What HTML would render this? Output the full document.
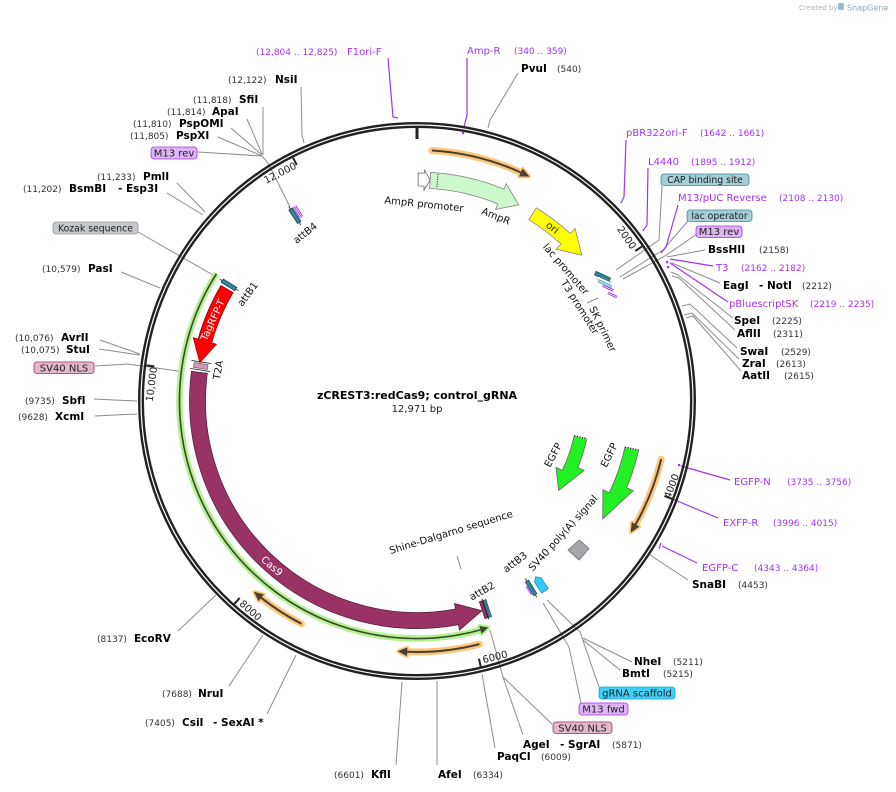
<!DOCTYPE html>
<html><head><meta charset="utf-8"><style>
html,body{margin:0;padding:0;background:#fff;}
svg{display:block;font-family:"DejaVu Sans","Liberation Sans",sans-serif;}
.b{font-weight:bold;font-size:10.5px;fill:#000}
.n{font-size:9px;fill:#333}
.p{font-size:10px;fill:#a033ee}
.pn{font-size:9px;fill:#a033ee}
.l{stroke:#8c8c8c;stroke-width:1;fill:none}
.pl{stroke:#a033ee;stroke-width:1.2;fill:none}
.f{font-size:10px;fill:#111}
.bx{font-size:10px;fill:#222}
.bs{font-size:9.3px;fill:#222}
</style></head><body>
<svg width="896" height="792" viewBox="0 0 896 792" xmlns="http://www.w3.org/2000/svg">
<rect width="896" height="792" fill="#fff"/>

<!-- header -->
<text x="799" y="10" font-size="7" fill="#b0b0b0">Created by</text>
<rect x="838" y="3" width="6" height="7" rx="1.5" fill="#9bbad0"/>
<text x="847" y="10.5" font-size="8" fill="#8aa4b8">SnapGene</text>

<!-- connector lines (gray) -->
<path class="l" d="M301,87 L302,135 L304,143"/>
<path class="l" d="M263,107 L263,155"/>
<path class="l" d="M247,119 L262,154"/>
<path class="l" d="M231,128 L262,155"/>
<path class="l" d="M218,137 L262,156"/>
<path class="l" d="M198,152 L262,156 L268,163 L290,207"/>
<path class="l" d="M177,183 L205,212"/>
<path class="l" d="M167,193 L203,215"/>
<path class="l" d="M138,232 L213,275"/>
<path class="l" d="M121,272 L160,288"/>
<path class="l" d="M100,340 L140,354"/>
<path class="l" d="M99,349 L140,355"/>
<path class="l" d="M95,366 L128,364 L178,371"/>
<path class="l" d="M94,399 L137,401"/>
<path class="l" d="M95,416 L137,414"/>
<path class="l" d="M178,631 L216,595"/>
<path class="l" d="M229,686 L263,635"/>
<path class="l" d="M267,714 L296,655"/>
<path class="l" d="M396,765 L402,682"/>
<path class="l" d="M437,765 L437,681"/>
<path class="l" d="M495,748 L482,674"/>
<path class="l" d="M523,735 L503,677 L490,630"/>
<path class="l" d="M552,724 L503,677"/>
<path class="l" d="M581,703 L569,647 L543,603"/>
<path class="l" d="M600,690 L580,632 L547,600"/>
<path class="l" d="M632,662 L583,638"/>
<path class="l" d="M620,670 L583,640"/>
<path class="l" d="M688,580 L650,555"/>
<path class="l" d="M518,73 L490,120 L488,128"/>
<path class="l" d="M662,186 L659,240 L616,270"/>
<path class="l" d="M688,221 L663,250 L620,277"/>
<path class="l" d="M697,234 L665,256 L623,279"/>
<path class="l" d="M705,250 L667,257"/>
<path class="l" d="M720,283 L672,263"/>
<path class="l" d="M733,318 L678,275 L671,272"/>
<path class="l" d="M735,330 L679,278 L672,276"/>
<path class="l" d="M737,348 L690,304 L682,306"/>
<path class="l" d="M739,359 L692,313 L684,315"/>
<path class="l" d="M741,371 L693,316 L686,318"/>
<path class="l" d="M457,556 L461,569"/>
<path class="l" d="M587,303 L598,298"/>

<!-- primer lines (purple) -->
<path class="pl" d="M388,58 L393,117 L398,118"/>
<path class="pl" d="M467,58 L467,115 L464,127"/>
<rect x="462" y="132" width="2.2" height="2.2" fill="#a033ee"/>
<path class="pl" d="M626,140 L624,197 L621,203"/>
<path class="pl" d="M648,168 L647,225 L643,231"/>
<path class="pl" d="M678,205 L666,247 L661,253"/>
<path class="pl" d="M713,266 L670,259"/>
<rect x="666" y="261" width="2.2" height="2.2" fill="#a033ee"/>
<path class="pl" d="M728,302 L670,263"/>
<rect x="667" y="266" width="2.2" height="2.2" fill="#a033ee"/>
<path class="pl" d="M730,480 L681,466"/>
<rect x="678" y="464" width="2.2" height="2.2" fill="#a033ee"/>
<path class="pl" d="M718,518 L670,498"/>
<rect x="667" y="496" width="2.2" height="2.2" fill="#a033ee"/>
<path class="pl" d="M697,563 L662,546"/>
<path class="pl" d="M661,543 L659,549"/>

<!-- backbone -->
<circle cx="417" cy="401" r="277.8" fill="none" stroke="#222" stroke-width="2.4"/>
<circle cx="417" cy="401" r="274.2" fill="none" stroke="#222" stroke-width="2.4"/>

<!-- ticks -->
<line x1="417" y1="127" x2="417" y2="139" stroke="#222" stroke-width="3"/>
<g stroke="#222" stroke-width="2">
<line x1="642.0" y1="246.4" x2="635.4" y2="250.9"/>
<line x1="671.9" y1="498.8" x2="664.4" y2="496.0"/>
<line x1="480.7" y1="666.5" x2="478.9" y2="658.7"/>
<line x1="234.3" y1="603.9" x2="239.7" y2="597.9"/>
<line x1="146.3" y1="365.4" x2="154.3" y2="366.4"/>
<line x1="293.1" y1="157.8" x2="296.7" y2="164.9"/>
</g>
<g font-size="10" fill="#222">
<text transform="translate(631.1,250) rotate(55.5)" text-anchor="end">2000</text>
<text transform="translate(670.1,499.2) rotate(-69)" text-anchor="start">4000</text>
<text transform="translate(483.4,663.2) rotate(-13.5)" text-anchor="start">6000</text>
<text transform="translate(238.8,604.5) rotate(42)" text-anchor="start">8000</text>
<text transform="translate(157.2,367.3) rotate(-82.5)" text-anchor="end">10,000</text>
<text transform="translate(297.2,168) rotate(-27)" text-anchor="end">12,000</text>
</g>

<!-- orange arcs -->
<g stroke="#fcc77c" stroke-linecap="round" stroke-linejoin="round" fill="#fcc77c">
<path d="M431.9,150.5 A251,251 0 0 1 521.1,172.6" stroke-width="7" fill="none"/>
<polygon points="519.4,176.2 522.7,168.9 529.0,176.4" stroke-width="4"/>
<path d="M661.2,459.2 A251,251 0 0 1 635.5,524.6" stroke-width="7" fill="none"/>
<polygon points="632.0,522.6 639.0,526.6 631.0,532.1" stroke-width="4"/>
<path d="M479.4,644.1 A251,251 0 0 1 406.9,651.8" stroke-width="7" fill="none"/>
<polygon points="407.1,647.8 406.8,655.8 398.2,651.3" stroke-width="4"/>
<path d="M301.5,623.8 A251,251 0 0 1 261.1,597.7" stroke-width="7" fill="none"/>
<polygon points="263.6,594.6 258.6,600.8 254.3,592.1" stroke-width="4"/>
</g>
<g stroke="#4a4033" fill="#4a4033">
<path d="M431.9,150.5 A251,251 0 0 1 521.1,172.6" stroke-width="2" fill="none"/>
<polygon points="519.4,176.2 522.7,168.9 529.0,176.4" stroke-width="0.5"/>
<path d="M661.2,459.2 A251,251 0 0 1 635.5,524.6" stroke-width="2" fill="none"/>
<polygon points="632.0,522.6 639.0,526.6 631.0,532.1" stroke-width="0.5"/>
<path d="M479.4,644.1 A251,251 0 0 1 406.9,651.8" stroke-width="2" fill="none"/>
<polygon points="407.1,647.8 406.8,655.8 398.2,651.3" stroke-width="0.5"/>
<path d="M301.5,623.8 A251,251 0 0 1 261.1,597.7" stroke-width="2" fill="none"/>
<polygon points="263.6,594.6 258.6,600.8 254.3,592.1" stroke-width="0.5"/>
</g>

<!-- green long arc -->
<path d="M216.5,273.7 A237.5,237.5 0 0 0 480.5,629.9" stroke="#b6ef8e" stroke-width="6.5" fill="none"/>
<polygon points="479.4,626 481.5,633.7 488.4,627.5" fill="#b6ef8e" stroke="#b6ef8e" stroke-width="4" stroke-linejoin="round"/>
<path d="M216.5,273.7 A237.5,237.5 0 0 0 480.5,629.9" stroke="#3b4a33" stroke-width="1.6" fill="none"/>
<polygon points="479.4,626 481.5,633.7 488.4,627.5" fill="#3b4a33"/>

<!-- Cas9 -->
<path d="M191.5,371.3 A227.5,227.5 0 0 0 458.5,624.7 L459.5,630.1 L481.9,610.7 L454.5,603.6 L455.5,609.0 A211.5,211.5 0 0 1 207.3,373.4 Z" fill="#993366" stroke="#5e1d3d" stroke-width="0.8"/>
<text transform="translate(272,566) rotate(41)" text-anchor="middle" dy="0.35em" font-size="10" fill="#fff">Cas9</text>

<!-- TagRFP-T -->
<path d="M221.0,285.5 A227.5,227.5 0 0 0 198.1,339.1 L193.3,337.7 L199.8,362.7 L216.4,344.2 L211.6,342.9 A213.5,213.5 0 0 1 233.1,292.6 Z" fill="#ff0000" stroke="#a00000" stroke-width="0.8"/>
<text transform="translate(212.5,320) rotate(-65)" text-anchor="middle" dy="0.35em" font-size="10" fill="#fff">TagRFP-T</text>

<!-- T2A -->
<g transform="translate(200.8,366) rotate(-80.8)">
<line x1="-4" y1="-10" x2="-4" y2="10" stroke="#222" stroke-width="0.8"/>
<line x1="4" y1="-10" x2="4" y2="10" stroke="#222" stroke-width="0.8"/>
<rect x="-2.5" y="-7" width="5" height="14" fill="#cc99b4" stroke="#6b4a5a" stroke-width="0.6"/>
</g>

<!-- attB1 -->
<g transform="translate(229,284.9) rotate(-58.3)">
<line x1="0" y1="-11" x2="0" y2="11" stroke="#222" stroke-width="0.8"/>
<rect x="-2" y="-8" width="4" height="16" fill="#2e8596" stroke="#1d3d44" stroke-width="0.7"/>
</g>
<!-- attB4 -->
<g transform="translate(294.8,215.7) rotate(-33.4)">
<line x1="0" y1="-11" x2="0" y2="11" stroke="#222" stroke-width="0.8"/>
<rect x="-2" y="-8" width="4" height="16" fill="#2e8596" stroke="#1d3d44" stroke-width="0.7"/>
<line x1="3.2" y1="-8" x2="3.2" y2="5" stroke="#a033ee" stroke-width="0.9"/>
<line x1="4.8" y1="-8" x2="4.8" y2="5" stroke="#a033ee" stroke-width="0.9"/>
<line x1="6.4" y1="-8" x2="6.4" y2="5" stroke="#a033ee" stroke-width="0.9"/>
</g>
<!-- attB2 -->
<g transform="translate(485.4,609.1) rotate(161.8)">
<line x1="0" y1="-11" x2="0" y2="11" stroke="#222" stroke-width="0.8"/>
<rect x="0.5" y="-9" width="3" height="18" fill="#993366" stroke="#4a1a30" stroke-width="0.6"/>
<rect x="-3.5" y="-9" width="3" height="18" fill="#2e8596" stroke="#1d3d44" stroke-width="0.6"/>
</g>
<!-- attB3 -->
<g transform="translate(531.1,587.9) rotate(148.6)">
<line x1="0" y1="-11" x2="0" y2="11" stroke="#222" stroke-width="0.8"/>
<rect x="-2" y="-8" width="4" height="16" fill="#2e8596" stroke="#1d3d44" stroke-width="0.6"/>
<rect x="2" y="-6" width="2" height="10" fill="#c060f0"/>
</g>
<!-- gRNA scaffold -->
<g transform="translate(540.6,584.2) rotate(146)">
<polygon points="-4,-8 4,-8 4,5 0,9 -4,5" fill="#33ccff" stroke="#1a7fa0" stroke-width="0.7"/>
</g>
<!-- SV40 polyA diamond -->
<polygon points="568,550 579.5,540 589,548.5 579,560" fill="#a3a7ab" stroke="#6a6e72" stroke-width="0.8"/>

<!-- lac cluster -->
<g transform="translate(602.5,276.5) rotate(25)"><rect x="-8" y="-2" width="16" height="4" fill="#2e8596" stroke="#1d3d44" stroke-width="0.6"/></g>
<g transform="translate(604,280.5) rotate(25)"><rect x="-7" y="-1.2" width="14" height="2.4" fill="#fff" stroke="#333" stroke-width="0.5" stroke-dasharray="1,1"/></g>
<g transform="translate(605,284) rotate(25)"><rect x="-7" y="-1.2" width="14" height="2.4" fill="#9edfe6" stroke="#3a8a96" stroke-width="0.5"/></g>
<g transform="translate(608,288) rotate(25)" stroke="#a033ee" stroke-width="0.9"><line x1="-6" y1="-0.8" x2="6" y2="-0.8"/><line x1="-6" y1="0.8" x2="6" y2="0.8"/></g>
<g transform="translate(612.5,295) rotate(25)" stroke="#a033ee" stroke-width="0.9"><line x1="-5" y1="-0.8" x2="5" y2="-0.8"/><line x1="-5" y1="0.8" x2="5" y2="0.8"/></g>

<!-- AmpR promoter -->
<path d="M418.2,173 A228,228 0 0 1 424.6,173.1 L424.7,170.1 L430.1,180.4 L424,190.1 L424.1,186.1 A215,215 0 0 0 418.1,186 Z" fill="#fff" stroke="#666" stroke-width="0.8"/>
<!-- AmpR -->
<path d="M430.6,172.4 A229,229 0 0 1 503.9,189.1 L506.2,183.6 L518.7,204.8 L495.6,209.5 L497.8,203.9 A213,213 0 0 0 429.6,188.4 Z" fill="#ccf9cc" stroke="#808080" stroke-width="0.8"/>
<line x1="438.1" y1="174" x2="436.8" y2="187.9" stroke="#111" stroke-width="0.9" stroke-dasharray="1.2,1.2"/>
<!-- ori -->
<path d="M536.3,207.9 A227,227 0 0 1 570.4,233.6 L575.1,228.5 L581.8,255.2 L556.2,249.1 L560.9,244 A213,213 0 0 0 528.9,219.8 Z" fill="#ffff00" stroke="#888" stroke-width="0.8"/>
<text transform="translate(552.5,227.6) rotate(38)" text-anchor="middle" dy="0.35em" font-size="10" fill="#222">ori</text>

<!-- EGFP arrows -->
<path d="M574.2,435.8 L586.9,438.7 A174,174 0 0 1 577.8,467.6 L584.2,470.3 L558.6,490.5 L556,467.3 L562.3,470.3 A161,161 0 0 0 574.2,435.8 Z" fill="#22f022" stroke="#666" stroke-width="0.8"/>
<line x1="574.2" y1="435.8" x2="586.9" y2="438.7" stroke="#fff" stroke-width="1.4"/>
<line x1="574.2" y1="435.8" x2="586.9" y2="438.7" stroke="#111" stroke-width="1.4" stroke-dasharray="1.3,1.3"/>
<path d="M625,447.1 L638.6,450.1 A227,227 0 0 1 626.7,487.9 L633.2,490.6 L602.7,518.9 L602.9,489.7 L609.3,492.7 A213,213 0 0 0 625,447.1 Z" fill="#22f022" stroke="#666" stroke-width="0.8"/>
<line x1="625" y1="447.1" x2="638.6" y2="450.1" stroke="#fff" stroke-width="1.4"/>
<line x1="625" y1="447.1" x2="638.6" y2="450.1" stroke="#111" stroke-width="1.4" stroke-dasharray="1.3,1.3"/>

<!-- inner feature labels -->
<g class="f" text-anchor="middle">
<text transform="translate(424,204) rotate(6)" dy="0.35em">AmpR promoter</text>
<text transform="translate(496,216) rotate(22)" dy="0.35em">AmpR</text>
<text transform="translate(566,269) rotate(49)" dy="0.35em">lac promoter</text>
<text transform="translate(580,307) rotate(58)" dy="0.35em">T3 promoter</text>
<text transform="translate(603,329) rotate(64)" dy="0.35em">SK primer</text>
<text transform="translate(305,233) rotate(-38)" dy="0.35em">attB4</text>
<text transform="translate(247.5,294) rotate(-54)" dy="0.35em">attB1</text>
<text transform="translate(218,370) rotate(-80)" dy="0.35em">T2A</text>
<text transform="translate(553,455) rotate(-62)" dy="0.35em">EGFP</text>
<text transform="translate(609,455) rotate(-64)" dy="0.35em">EGFP</text>
<text transform="translate(563,533) rotate(-48)" dy="0.35em">SV40 poly(A) signal</text>
<text transform="translate(515,562) rotate(-37)" dy="0.35em">attB3</text>
<text transform="translate(482,591) rotate(-29)" dy="0.35em">attB2</text>
<text transform="translate(451,532) rotate(-17)" dy="0.35em">Shine-Dalgarno sequence</text>
</g>

<!-- title -->
<text x="417" y="399" text-anchor="middle" font-size="11" font-weight="bold" fill="#000">zCREST3:redCas9; control_gRNA</text>
<text x="417" y="412" text-anchor="middle" font-size="10" fill="#222">12,971 bp</text>

<!-- boxes -->
<rect x="151" y="147" width="46" height="12" rx="3" fill="#dcb4f6" stroke="#a033ee" stroke-width="0.8"/>
<text class="bx" x="174" y="156.5" text-anchor="middle">M13 rev</text>
<rect x="53" y="222" width="85" height="12" rx="3" fill="#c4c8cc" stroke="#92969a" stroke-width="0.8"/>
<text class="bs" x="95.5" y="231.5" text-anchor="middle">Kozak sequence</text>
<rect x="34" y="362" width="60" height="11.5" rx="3" fill="#e2b8cc" stroke="#993366" stroke-width="0.8"/>
<text class="bx" x="64" y="371.5" text-anchor="middle">SV40 NLS</text>
<rect x="553" y="722" width="59" height="11.5" rx="3" fill="#e2b8cc" stroke="#993366" stroke-width="0.8"/>
<text class="bx" x="582.5" y="731.5" text-anchor="middle">SV40 NLS</text>
<rect x="579" y="703" width="49" height="12" rx="3" fill="#dcb4f6" stroke="#a033ee" stroke-width="0.8"/>
<text class="bx" x="603.5" y="712.5" text-anchor="middle">M13 fwd</text>
<rect x="599" y="687" width="76" height="12" rx="3" fill="#40d0f6" stroke="#1a9fd0" stroke-width="0.8"/>
<text class="bx" x="637" y="696.5" text-anchor="middle">gRNA scaffold</text>
<rect x="661" y="174" width="88" height="11.5" rx="3" fill="#a5ced7" stroke="#3f8794" stroke-width="0.8"/>
<text class="bs" x="705" y="183" text-anchor="middle">CAP binding site</text>
<rect x="687" y="210" width="65" height="11.5" rx="3" fill="#a5ced7" stroke="#3f8794" stroke-width="0.8"/>
<text class="bs" x="719.5" y="219" text-anchor="middle">lac operator</text>
<rect x="696" y="226" width="46" height="11.5" rx="3" fill="#dcb4f6" stroke="#a033ee" stroke-width="0.8"/>
<text class="bx" x="719" y="235.2" text-anchor="middle">M13 rev</text>

<!-- outer labels: top-left -->
<text class="pn" x="256" y="55">(12,804 .. 12,825)</text>
<text class="p" x="347" y="55">F1ori-F</text>
<text class="n" x="228" y="83">(12,122)</text><text class="b" x="275" y="83">NsiI</text>
<text class="n" x="193" y="103">(11,818)</text><text class="b" x="239" y="103">SfiI</text>
<text class="n" x="167" y="115">(11,814)</text><text class="b" x="212" y="115">ApaI</text>
<text class="n" x="133" y="127">(11,810)</text><text class="b" x="179" y="127">PspOMI</text>
<text class="n" x="130" y="139">(11,805)</text><text class="b" x="176" y="139">PspXI</text>
<text class="n" x="97" y="180">(11,233)</text><text class="b" x="143" y="180">PmlI</text>
<text class="n" x="23" y="192">(11,202)</text><text class="b" x="69" y="192">BsmBI</text><text class="b" x="118" y="192">- Esp3I</text>
<text class="n" x="42" y="272">(10,579)</text><text class="b" x="88" y="272">PasI</text>
<text class="n" x="15" y="341">(10,076)</text><text class="b" x="61" y="341">AvrII</text>
<text class="n" x="21" y="353">(10,075)</text><text class="b" x="66" y="353">StuI</text>
<text class="n" x="25" y="404">(9735)</text><text class="b" x="62" y="404">SbfI</text>
<text class="n" x="18" y="420">(9628)</text><text class="b" x="55" y="420">XcmI</text>

<!-- bottom-left -->
<text class="n" x="97" y="642">(8137)</text><text class="b" x="134" y="642">EcoRV</text>
<text class="n" x="162" y="697">(7688)</text><text class="b" x="198" y="697">NruI</text>
<text class="n" x="145" y="726">(7405)</text><text class="b" x="182" y="726">CsiI</text><text class="b" x="213" y="726">- SexAI *</text>
<text class="n" x="334" y="778">(6601)</text><text class="b" x="371" y="778">KflI</text>

<!-- bottom -->
<text class="b" x="438" y="778">AfeI</text><text class="n" x="473" y="778">(6334)</text>
<text class="b" x="497" y="760">PaqCI</text><text class="n" x="541" y="760">(6009)</text>
<text class="b" x="523" y="748">AgeI</text><text class="b" x="560" y="748">- SgrAI</text><text class="n" x="612" y="748">(5871)</text>
<text class="b" x="634" y="665">NheI</text><text class="n" x="673" y="665">(5211)</text>
<text class="b" x="622" y="677">BmtI</text><text class="n" x="663" y="677">(5215)</text>

<!-- right -->
<text class="b" x="692" y="588">SnaBI</text><text class="n" x="738" y="588">(4453)</text>
<text class="p" x="702" y="571">EGFP-C</text><text class="pn" x="754" y="571">(4343 .. 4364)</text>
<text class="p" x="723" y="526">EXFP-R</text><text class="pn" x="773" y="526">(3996 .. 4015)</text>
<text class="p" x="734" y="485">EGFP-N</text><text class="pn" x="787" y="485">(3735 .. 3756)</text>

<!-- top-right -->
<text class="p" x="467" y="54">Amp-R</text><text class="pn" x="514" y="54">(340 .. 359)</text>
<text class="b" x="521" y="72">PvuI</text><text class="n" x="557" y="72">(540)</text>
<text class="p" x="626" y="136">pBR322ori-F</text><text class="pn" x="700" y="136">(1642 .. 1661)</text>
<text class="p" x="648" y="165">L4440</text><text class="pn" x="691" y="165">(1895 .. 1912)</text>
<text class="p" x="678" y="201">M13/pUC Reverse</text><text class="pn" x="779" y="201">(2108 .. 2130)</text>
<text class="b" x="708" y="253">BssHII</text><text class="n" x="759" y="253">(2158)</text>
<text class="p" x="716" y="271">T3</text><text class="pn" x="741" y="271">(2162 .. 2182)</text>
<text class="b" x="723" y="289">EagI</text><text class="b" x="759" y="289">- NotI</text><text class="n" x="802" y="289">(2212)</text>
<text class="p" x="729" y="307">pBluescriptSK</text><text class="pn" x="810" y="307">(2219 .. 2235)</text>
<text class="b" x="734" y="324">SpeI</text><text class="n" x="772" y="324">(2225)</text>
<text class="b" x="737" y="337">AflII</text><text class="n" x="773" y="337">(2311)</text>
<text class="b" x="740" y="355">SwaI</text><text class="n" x="781" y="355">(2529)</text>
<text class="b" x="742" y="367">ZraI</text><text class="n" x="776" y="367">(2613)</text>
<text class="b" x="742" y="379">AatII</text><text class="n" x="784" y="379">(2615)</text>
</svg>
</body></html>
